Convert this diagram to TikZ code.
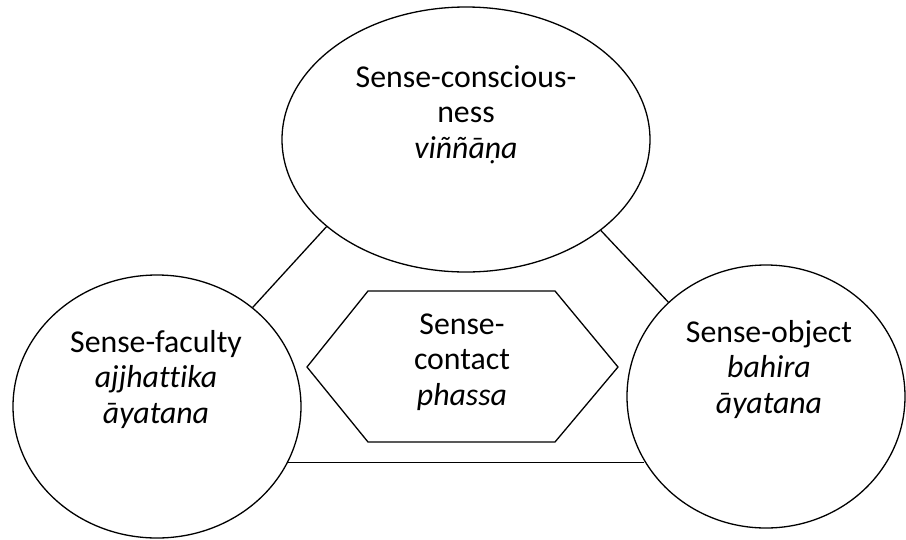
\documentclass[tikz,border=0pt]{standalone}
\usepackage{fontspec}
\setmainfont{Carlito}[Ligatures=CommonOff]
\usetikzlibrary{shapes.geometric}
\begin{document}
\begin{tikzpicture}[x=1pt,y=-1pt,
  oval/.style={ellipse,draw,line width=1.3pt,inner sep=0pt},
  lbl/.style={align=center,anchor=base,inner sep=0pt,font=\fontsize{31.8}{35.5}\selectfont},
  link/.style={line width=1.3pt}]
\useasboundingbox (0,0) rectangle (906,539);
\node[oval,minimum width=368pt,minimum height=265pt] (con) at (466,139.5) {};
\node[oval,minimum width=288pt,minimum height=263pt] (fac) at (157,406.5) {};
\node[oval,minimum width=278pt,minimum height=263pt] (obj) at (766,396.5) {};
\coordinate (h1) at (307,367);
\coordinate (h2) at (368,291);
\coordinate (h3) at (555,291);
\coordinate (h4) at (618,367);
\coordinate (h5) at (555,442);
\coordinate (h6) at (368,442);
\draw[link] (h1) -- (h2) -- (h3) -- (h4) -- (h5) -- (h6) -- cycle;
\node[lbl] (tcon) at (466,158) {Sense-conscious-\\ness\\\textit{viññāṇa}};
\node[lbl] (tfac) at (156,423) {Sense-faculty\\\textit{ajjhattika}\\\textit{āyatana}};
\node[lbl] (tobj) at (769,413) {Sense-object\\\textit{bahira}\\\textit{āyatana}};
\node[lbl] (thex) at (462,405) {Sense-\\contact\\\textit{phassa}};
\draw[link] (fac.46) -- (con.212);
\draw[link] (con.326) -- (obj.136.6);
\draw[link] (fac.337) -- (fac.337 -| obj.208);
\end{tikzpicture}
\end{document}
